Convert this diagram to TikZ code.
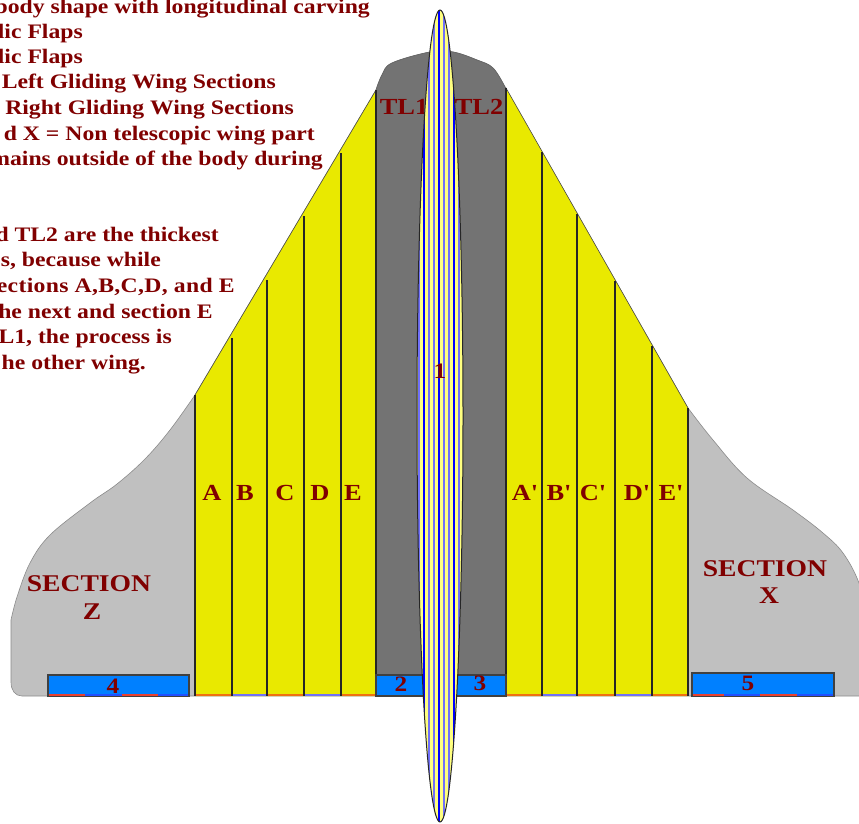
\documentclass[tikz,border=0pt]{standalone}
\usepackage{fontspec}
\setmainfont{Liberation Serif}
\newfontfamily\labelfont[FakeStretch=1.15]{Liberation Serif}
\definecolor{ink}{HTML}{800000}
\definecolor{outer}{HTML}{C0C0C0}
\definecolor{inner}{HTML}{737373}
\definecolor{glide}{HTML}{E9E900}
\definecolor{flap}{HTML}{0080FF}
\definecolor{pale}{HTML}{FFFF80}
\definecolor{soft}{HTML}{7070F8}
\definecolor{edgered}{HTML}{E84030}
\definecolor{edgeorange}{HTML}{F07010}
\definecolor{edgeblue}{HTML}{2050FF}

\begin{document}
\begin{tikzpicture}[
  x=1pt, y=-1pt,
  note/.style={anchor=base east, inner sep=0pt, font=\labelfont\fontsize{20.6}{24}\selectfont\bfseries, text=ink},
  panel/.style={inner sep=0pt, font=\labelfont\fontsize{23}{26}\selectfont\bfseries, text=ink},
  wide/.style={inner sep=0pt, font=\labelfont\fontsize{24}{27}\selectfont\bfseries, text=ink},
  num/.style={inner sep=0pt, font=\labelfont\fontsize{22}{24}\selectfont\bfseries, text=ink},
  rib/.style={draw=black!85, line width=1.3pt},
  flapbox/.style={fill=flap, draw=black!75, line width=1.2pt},
  strip/.style={line width=1.6pt},
]
\useasboundingbox (0,0) rectangle (859,823);

\fill[white] (0,0) rectangle (859,823);

\fill[outer, draw=black!45, line width=0.6pt, line join=round]
  (22,696) .. controls (15,696) and (11,690) .. (11,682) -- (11,620)
  -- plot[smooth, tension=0.6] coordinates {(11,620) (17,597) (30,563) (50,535) (90,503) (117,484) (145,459) (170,430) (195,395)}
  -- (376,90)
  -- plot[smooth, tension=0.6] coordinates {(376,90) (382,75) (392,63) (430,52) (453,52) (477,60) (493,68) (505,87)}
  -- (688,408)
  -- plot[smooth, tension=0.6] coordinates {(688,408) (713,440) (747,478) (793,510) (823,533) (843,553) (859,583) (868,620)}
  -- (868,696) -- cycle;

\fill[glide] (195,395) -- (376,90) -- (376,696) -- (195,696) -- cycle;
\fill[glide] (506,88) -- (688,408) -- (688,696) -- (506,696) -- cycle;
\fill[inner, draw=black!60, line width=0.7pt]
  (376,90) -- plot[smooth, tension=0.6] coordinates {(376,90) (382,75) (392,63) (430,52) (453,52) (477,60) (493,68) (505,87)}
  -- (506,88) -- (506,696) -- (376,696) -- cycle;

\draw[black!70, line width=0.6pt] (195,395) -- (376,90);
\draw[black!70, line width=0.6pt] (506,88) -- (688,408);

\draw[rib] (195,395) -- (195,696);
\draw[rib] (232,338) -- (232,696);
\draw[rib] (267,280) -- (267,696);
\draw[rib] (304,216) -- (304,696);
\draw[rib] (341,153) -- (341,696);
\draw[rib] (376,90) -- (376,696);
\draw[rib] (506,88) -- (506,696);
\draw[rib] (542,152) -- (542,696);
\draw[rib] (577,214) -- (577,696);
\draw[rib] (615,281) -- (615,696);
\draw[rib] (652,346) -- (652,696);
\draw[rib] (688,408) -- (688,696);

\draw[flapbox] (48,675) rectangle (189,696);
\draw[flapbox] (376,675) rectangle (426,696);
\draw[flapbox] (455,675) rectangle (506,696);
\draw[flapbox] (692,673) rectangle (834,696);

\draw[strip, edgeorange] (196,695.2) -- (231,695.2) (268,695.2) -- (303,695.2) (342,695.2) -- (375,695.2);
\draw[strip, soft] (233,695.2) -- (266,695.2) (305,695.2) -- (340,695.2);
\draw[strip, edgeorange] (507,695.2) -- (541,695.2) (578,695.2) -- (614,695.2) (653,695.2) -- (687,695.2);
\draw[strip, soft] (543,695.2) -- (576,695.2) (616,695.2) -- (651,695.2);
\draw[strip, edgered] (49,695.2) -- (85,695.2) (122,695.2) -- (158,695.2);
\draw[strip, edgeblue] (85,695.2) -- (122,695.2) (158,695.2) -- (188,695.2);
\draw[strip, edgered] (693,695.2) -- (724,695.2) (760,695.2) -- (797,695.2);
\draw[strip, edgeblue] (724,695.2) -- (760,695.2) (797,695.2) -- (833,695.2);

\node[panel] (tla) at (404,107) {TL1};
\node[panel] (tlb) at (479,107) {TL2};

\begin{scope}
\clip (440,416) ellipse [x radius=23, y radius=406];
\fill[pale] (417,10) rectangle (463,822);
\draw[soft, line width=1.3pt] (419,10) -- (419,822) (429,10) -- (429,822) (434,10) -- (434,822) (444,10) -- (444,822) (449,10) -- (449,822) (459,10) -- (459,822);
\draw[blue, line width=1.3pt] (424,10) -- (424,822) (439,10) -- (439,822) (454,10) -- (454,822);
\end{scope}
\draw[black!85, line width=1pt] (440,416) ellipse [x radius=23, y radius=406];

\node[num] (one) at (440,371) {1};
\node[num] (two) at (401,684) {2};
\node[num] (three) at (480,683) {3};
\node[num] (four) at (113,686) {4};
\node[num] (five) at (748,683) {5};

\node[panel] (sa) at (212,493) {A};
\node[panel] (sb) at (245,493) {B};
\node[panel] (sc) at (285,493) {C};
\node[panel] (sd) at (320,493) {D};
\node[panel] (se) at (353,493) {E};
\node[panel] (ra) at (525,493) {A'};
\node[panel] (rb) at (559,493) {B'};
\node[panel] (rc) at (593,493) {C'};
\node[panel] (rd) at (637,493) {D'};
\node[panel] (re) at (671,493) {E'};

\node[wide] (secz) at (89,584) {SECTION};
\node[wide] (zz) at (92,612) {Z};
\node[wide] (secx) at (765,569) {SECTION};
\node[wide] (xx) at (769,596) {X};

\node[note] (la) at (370,13) {body shape with longitudinal carving};
\node[note] (lb) at (83,38) {lic Flaps};
\node[note] (lc) at (83,63.5) {lic Flaps};
\node[note] (ld) at (276,88.5) {Left Gliding Wing Sections};
\node[note] (le) at (294,114) {Right Gliding Wing Sections};
\node[note] (lf) at (315,140) {d X = Non telescopic wing part};
\node[note] (lg) at (323,165) {mains outside of the body during};
\node[note] (lh) at (219,241) {d TL2 are the thickest};
\node[note] (li) at (161,266) {s, because while};
\node[note] (lj) at (235,292) {\addfontfeature{LetterSpace=1.5}ections A,B,C,D, and E};
\node[note] (lk) at (213,318) {he next and section E};
\node[note] (ll) at (172,343) {L1, the process is};
\node[note] (lm) at (146,369) {he other wing.};

\end{tikzpicture}
\end{document}
